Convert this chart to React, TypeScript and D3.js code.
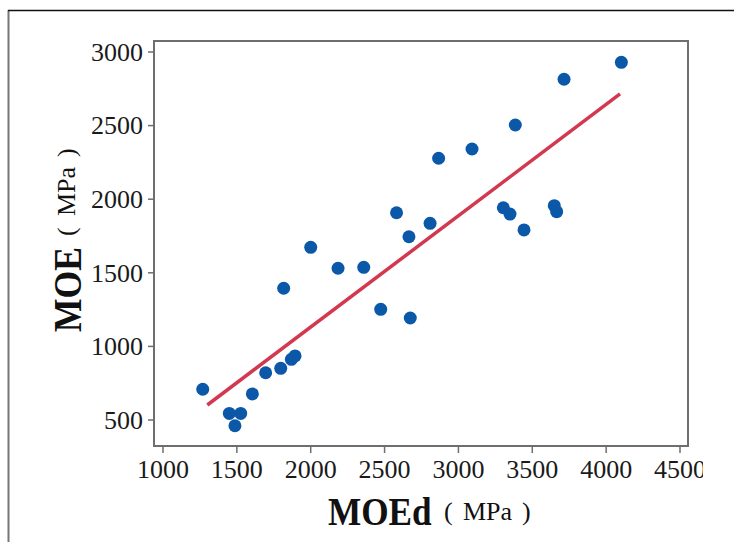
import React from "react";
import * as d3 from "d3";

const moed: number[] = [1269, 1449, 1526, 1487, 1605, 1695, 1797, 1869, 1894, 1817, 2000, 2185, 2359, 2474, 2674, 2581, 2665, 2808, 2866, 3092, 3385, 3715, 4103, 3304, 3349, 3444, 3649, 3665];
const moe: number[] = [709, 545, 545, 461, 677, 821, 851, 912, 935, 1395, 1673, 1531, 1537, 1252, 1193, 1908, 1745, 1836, 2278, 2341, 2504, 2815, 2930, 1942, 1899, 1791, 1956, 1915];
const fitX: number[] = [1300, 4094];
const fitY: number[] = [602, 2715];
const xTicks: number[] = [1000, 1500, 2000, 2500, 3000, 3500, 4000, 4500];
const yTicks: number[] = [500, 1000, 1500, 2000, 2500, 3000];

export default function App() {
  const W = 734, H = 542;
  const L = 154, R = 688, T = 41, B = 446;
  const x = d3.scaleLinear().domain([1000, 4500]).range([163, 680]);
  const y = d3.scaleLinear().domain([500, 3000]).range([420, 52]);
  const line = d3.line<number>().x((_, i) => x(fitX[i])).y((d) => y(d));
  const font = "'Liberation Serif', 'Times New Roman', serif";
  return (
    <svg width={W} height={H} style={{ position: "absolute", left: 0, top: 0, background: "#fff" }} fontFamily={font}>
      <defs>
        <clipPath id="clipR"><rect x={0} y={0} width={703} height={H} /></clipPath>
      </defs>
      {/* outer frame */}
      <line x1={8.5} y1={10} x2={8.5} y2={H} stroke="#777" strokeWidth={2} />
      <line x1={8} y1={10.5} x2={W} y2={10.5} stroke="#111" strokeWidth={1.5} />
      {/* plot frame */}
      <rect x={L} y={T} width={R - L} height={B - T} fill="none" stroke="#6e6e6e" strokeWidth={2} />
      {yTicks.map((t) => (
        <g key={"y" + t}>
          <line x1={L - 6} x2={L} y1={y(t)} y2={y(t)} stroke="#6e6e6e" strokeWidth={1.5} />
          <text x={143} y={y(t)} dy="0.34em" textAnchor="end" fontSize={26} fill="#1a1a1a">{t}</text>
        </g>
      ))}
      <g clipPath="url(#clipR)">
        {xTicks.map((t) => (
          <g key={"x" + t}>
            <line x1={x(t)} x2={x(t)} y1={B} y2={B + 7} stroke="#6e6e6e" strokeWidth={1.5} />
            <text x={x(t)} y={478} textAnchor="middle" fontSize={26} fill="#1a1a1a">{t}</text>
          </g>
        ))}
      </g>
      {/* fit line */}
      <path d={line(fitY) || ""} fill="none" stroke="#d2384f" strokeWidth={3.5} />
      {moed.map((v, i) => (
        <circle key={i} cx={x(v)} cy={y(moe[i])} r={6.5} fill="#0b57a8" />
      ))}
      {/* x axis title */}
      <g fill="#111">
        <text transform="translate(328,525) scale(0.88,1)" fontSize={40} fontWeight="bold">MOEd</text>
        <text x={444} y={520} fontSize={26}>(</text>
        <text x={463} y={520} fontSize={26}>MPa</text>
        <text x={522} y={520} fontSize={26}>)</text>
      </g>
      {/* y axis title */}
      <g fill="#111">
        <text transform="translate(81,332) rotate(-90) scale(0.89,1)" fontSize={40} fontWeight="bold">MOE</text>
        <text transform="translate(75,236) rotate(-90)" fontSize={26}>(</text>
        <text transform="translate(75,216) rotate(-90)" fontSize={26}>MPa</text>
        <text transform="translate(75,157) rotate(-90)" fontSize={26}>)</text>
      </g>
    </svg>
  );
}
